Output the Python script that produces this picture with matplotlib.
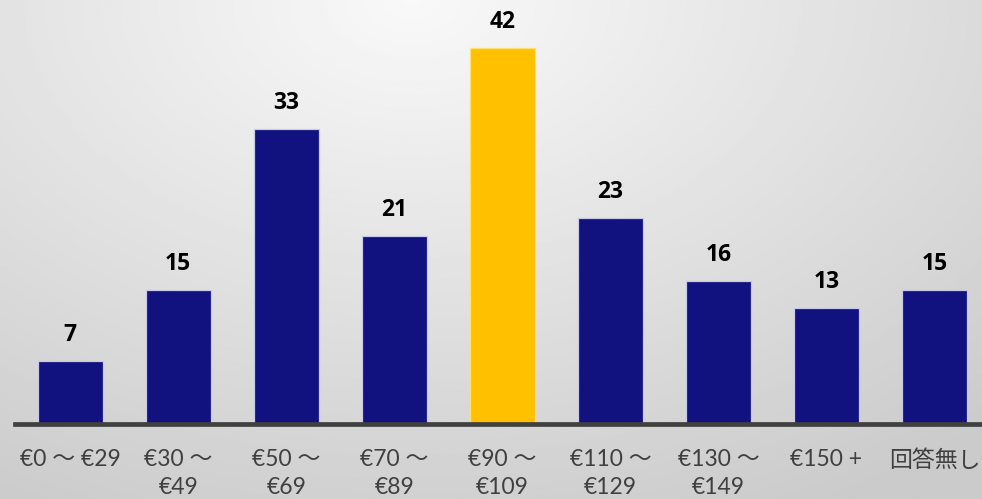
import numpy as np
import matplotlib.pyplot as plt

# price bands (line breaks as in the original chart)
categories = ["€0 ～ €29", "€30 ～\n€49", "€50 ～\n€69", "€70 ～\n€89", "€90 ～\n€109",
              "€110 ～\n€129", "€130 ～\n€149", "€150 +", "回答無し"]
counts = [7, 15, 33, 21, 42, 23, 16, 13, 15]
highlight = "€90 ～\n€109"

plt.rcParams['font.family'] = ['Lato', 'Noto Sans CJK JP', 'DejaVu Sans']

W, H, DPI = 982, 499, 100
fig = plt.figure(figsize=(W / DPI, H / DPI), dpi=DPI)

# background gradient
bg = fig.add_axes([0, 0, 1, 1], zorder=-10)
yy, xx = np.mgrid[0:1:200j, 0:1:400j]
r = np.sqrt(((xx - 0.42) * 1.3) ** 2 + (yy * 1.0) ** 2)
shade = 0.975 - 0.18 * np.clip(r, 0, 1.15) / 1.15
bg.imshow(shade, cmap='gray', vmin=0, vmax=1, aspect='auto', extent=[0, 1, 1, 0])
bg.axis('off')

# axes geometry in pixels
base_px = 424
ppu = 376 / 42
ymax = 46
left_px = 15
ax = fig.add_axes([left_px / W, (H - base_px) / H, 1 - left_px / W, ymax * ppu / H])
ax.patch.set_alpha(0)

x = np.arange(len(categories))
colors = ['#ffc000' if c == highlight else '#11117f' for c in categories]
edges = ['#ffe070' if c == highlight else '#c8c8ea' for c in categories]
ax.bar(x, counts, width=0.6, color=colors, edgecolor=edges, linewidth=0.9, zorder=2)

for xi, v in zip(x, counts):
    ax.annotate(str(v), (xi, v), xytext=(0, 26 * 72 / DPI), textcoords='offset points',
                ha='center', va='center', fontsize=16.5, fontweight='bold', color='black',
                family=['Open Sans', 'DejaVu Sans'])

ax.set_xlim(-0.51, 8.44)
ax.set_ylim(0, ymax)
ax.set_xticks(x)
ax.set_xticklabels(categories, fontsize=16.5, color='#404040', linespacing=1.42)
ax.tick_params(axis='x', length=0, pad=18)
ax.set_yticks([])
for s in ['top', 'left', 'right']:
    ax.spines[s].set_visible(False)
ax.spines['bottom'].set_linewidth(3.4)
ax.spines['bottom'].set_color('#404040')
ax.spines['bottom'].set_zorder(3)

fig.savefig('out.png', dpi=DPI)
